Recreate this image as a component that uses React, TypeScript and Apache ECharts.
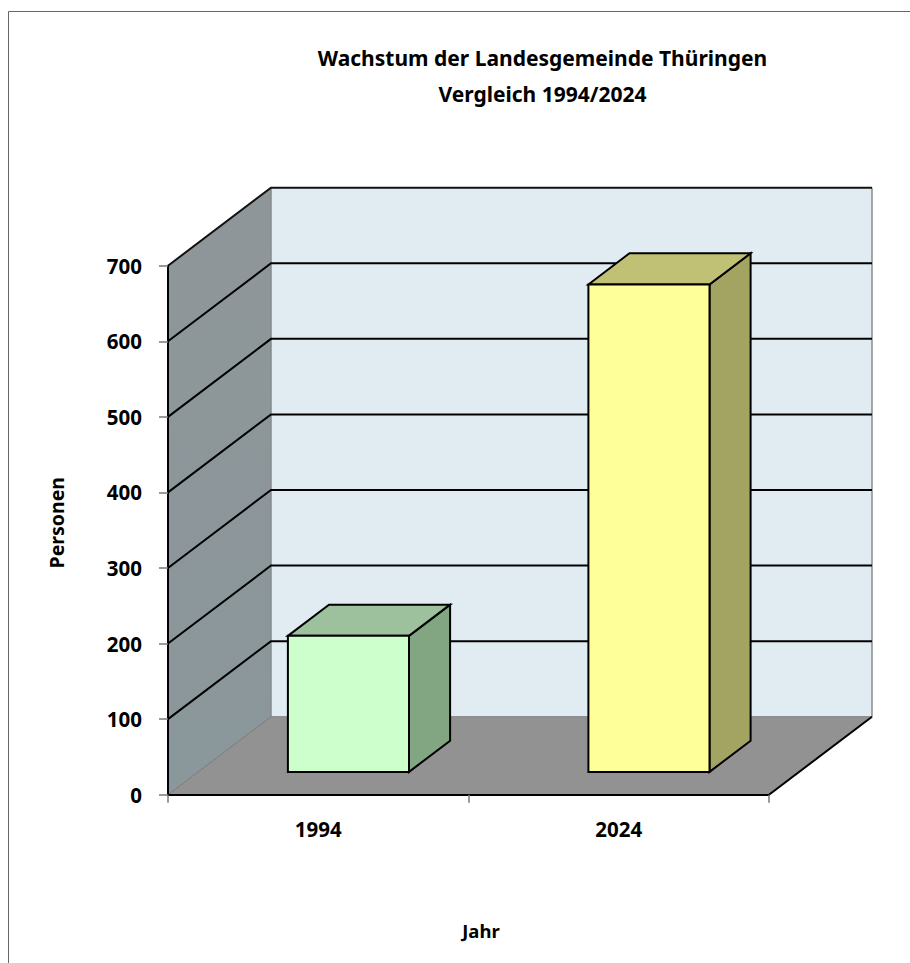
import React, { useEffect, useRef } from "react";
import * as echarts from "echarts";

const titleLines = ["Wachstum der Landesgemeinde Thüringen", "Vergleich 1994/2024"];
const categories = ["1994", "2024"];
const personen = [180, 645];
const yTicks = [100, 200, 300, 400, 500, 600, 700];
const frontColors = ["#ccffcc", "#ffff99"];
const topColors = ["#9cc19c", "#c1c175"];
const sideColors = ["#82a582", "#a3a362"];
const xAxisName = "Jahr";
const yAxisName = "Personen";

const FONT = "Noto Sans";
const DX = 103;
const DY = 78;
const BAR_NEAR_X = 30.2;
const BAR_FAR_X = 71.3;
const BAR_NEAR_Y = 22.8;
const BAR_FAR_Y = 54;
const BAR_FRACTION = 0.403;

function poly(points: number[][], fill: string, stroke?: string, lineWidth = 0) {
  return {
    type: "polygon",
    shape: { points },
    style: { fill, stroke: stroke ?? "none", lineWidth, lineJoin: "miter" },
  };
}
function line(points: number[][], stroke: string, lineWidth: number) {
  return { type: "polyline", shape: { points }, style: { fill: "none", stroke, lineWidth } };
}

export default function App() {
  const ref = useRef<HTMLDivElement>(null);
  useEffect(() => {
    document.body.style.margin = "0";
    const chart = echarts.init(ref.current!, null, { renderer: "svg" });
    chart.setOption({
      animation: false,
      backgroundColor: "#ffffff",
      title: {
        text: titleLines.join("\n"),
        left: 537.5,
        top: 34.5,
        textAlign: "center",
        textStyle: { fontFamily: FONT, fontWeight: "bold", fontSize: 21, lineHeight: 36, color: "#000" },
      },
      grid: { left: 168, top: 265.7, width: 601, height: 529 },
      xAxis: {
        type: "category",
        data: categories,
        z: 5,
        name: xAxisName,
        nameLocation: "middle",
        nameGap: 126,
        nameTextStyle: { fontFamily: FONT, fontWeight: "bold", fontSize: 18.5, color: "#000", padding: [0, 0, 0, 25] },
        axisLine: { show: true, lineStyle: { color: "#000", width: 2 } },
        axisTick: { show: true, alignWithLabel: false, length: 8, lineStyle: { color: "#777", width: 1.5 } },
        axisLabel: { fontFamily: FONT, fontWeight: "bold", fontSize: 20.5, color: "#000", margin: 24 },
      },
      yAxis: {
        type: "value",
        min: 0,
        max: 700,
        interval: 100,
        z: 5,
        name: yAxisName,
        nameLocation: "middle",
        nameGap: 102,
        nameRotate: 90,
        nameTextStyle: { fontFamily: FONT, fontWeight: "bold", fontSize: 19.5, color: "#000", padding: [0, 0, 0, 15] },
        axisLine: { show: true, onZero: false, lineStyle: { color: "#000", width: 2 } },
        axisTick: { show: true, length: 9, lineStyle: { color: "#777", width: 1.5 } },
        axisLabel: { fontFamily: FONT, fontWeight: "bold", fontSize: 20.5, color: "#000", margin: 26 },
        splitLine: { show: false },
      },
      graphic: [
        {
          type: "polyline",
          shape: { points: [[8.5, 970], [8.5, 11.5], [915, 11.5]] },
          style: { fill: "none", stroke: "#666", lineWidth: 1 },
          silent: true,
        },
      ],
      series: [
        {
          name: "Wände",
          type: "custom",
          coordinateSystem: "cartesian2d",
          z: 1,
          silent: true,
          data: [[0, 700]],
          renderItem: (params: any, api: any) => {
            const r = params.coordSys;
            const L = r.x, R = r.x + r.width, T = api.coord([0, api.value(1)])[1], B = api.coord([0, 0])[1];
            return {
              type: "group",
              children: [
                poly([[L + DX, T - DY], [R + DX, T - DY], [R + DX, B - DY], [L + DX, B - DY]], "#e1ebf2"),
                {
                  type: "polygon",
                  shape: { points: [[L, T], [L + DX, T - DY], [L + DX, B - DY], [L, B]] },
                  style: {
                    fill: new echarts.graphic.LinearGradient(0, 0, 0, 1, [
                      { offset: 0, color: "#8f9699" },
                      { offset: 1, color: "#8a979b" },
                    ]),
                  },
                },
                poly([[L, B], [R, B], [R + DX, B - DY], [L + DX, B - DY]], "#929292"),
                line([[L + DX, T - DY], [L + DX, B - DY]], "#868a8c", 1.5),
                line([[L, B], [L + DX, B - DY]], "#777", 1),
                line([[L + DX, B - DY], [R + DX, B - DY]], "#808080", 1),
                line([[R + DX, T - DY], [R + DX, B - DY]], "#8c8c8c", 1.5),
                line([[L, T], [L + DX, T - DY], [R + DX, T - DY]], "#111", 2),
                line([[R, B], [R + DX, B - DY]], "#000", 2),
              ],
            };
          },
        },
        {
          name: "Gitter",
          type: "custom",
          coordinateSystem: "cartesian2d",
          z: 2,
          silent: true,
          data: yTicks.slice(0, -1).map((v) => [0, v]),
          renderItem: (params: any, api: any) => {
            const r = params.coordSys;
            const y = api.coord([0, api.value(1)])[1];
            const L = r.x, R = r.x + r.width;
            return line([[L, y], [L + DX, y - DY], [R + DX, y - DY]], "#000", 2);
          },
        },
        {
          name: "Personen",
          type: "custom",
          coordinateSystem: "cartesian2d",
          z: 3,
          data: personen.map((v, i) => [i, v]),
          renderItem: (params: any, api: any) => {
            const i = params.dataIndex;
            const idx = api.value(0);
            const top = api.coord([idx, api.value(1)]);
            const bottom = api.coord([idx, 0]);
            const band = api.size([1, 0])[0];
            const w = band * BAR_FRACTION;
            const x0 = top[0] - w / 2 + BAR_NEAR_X, x1 = x0 + w;
            const t = top[1] - BAR_NEAR_Y, b = bottom[1] - BAR_NEAR_Y;
            const ox = BAR_FAR_X - BAR_NEAR_X, oy = BAR_FAR_Y - BAR_NEAR_Y;
            const stroke = "#000";
            return {
              type: "group",
              children: [
                poly([[x1, t], [x1 + ox, t - oy], [x1 + ox, b - oy], [x1, b]], sideColors[i], stroke, 2),
                poly([[x0, t], [x0 + ox, t - oy], [x1 + ox, t - oy], [x1, t]], topColors[i], stroke, 2),
                poly([[x0, t], [x1, t], [x1, b], [x0, b]], frontColors[i], stroke, 2),
              ],
            };
          },
        },
      ],
    });
    return () => chart.dispose();
  }, []);
  return <div ref={ref} style={{ width: 910, height: 963 }} />;
}
